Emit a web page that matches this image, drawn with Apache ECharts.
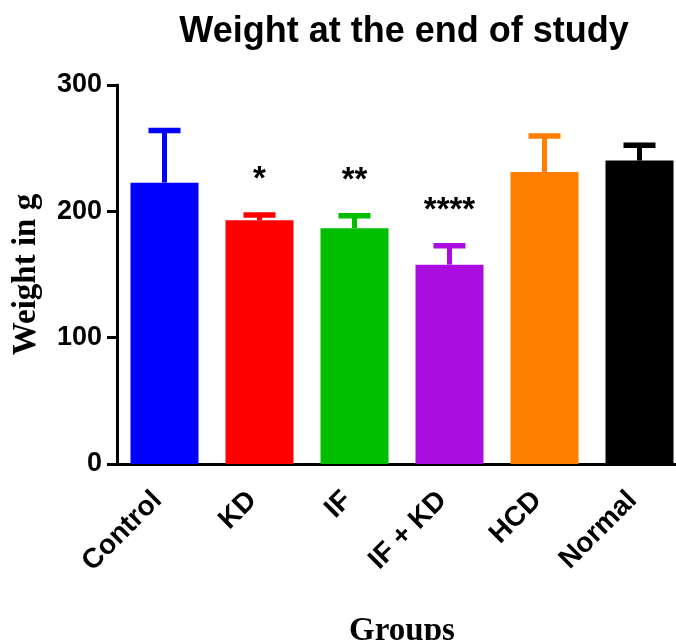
<!DOCTYPE html>
<html>
<head>
<meta charset="utf-8">
<script src="https://cdn.jsdelivr.net/npm/echarts@6/dist/echarts.min.js"></script>
<style>html,body{margin:0;padding:0;background:#fff}#c{width:676px;height:640px}</style>
</head>
<body>
<div id="c"></div>
<script>
const categories = ['Control', 'KD', 'IF', 'IF + KD', 'HCD', 'Normal'];
const means = [222.7, 193, 186.6, 157.8, 231.2, 240.2];
const errors = [41.3, 4, 10, 15, 28.5, 12.2];
const significance = ['', '*', '**', '****', '', ''];
const colors = ['#0000FF', '#FF0000', '#00BF00', '#AB0CE0', '#FF8000', '#000000'];
const yTicks = [0, 100, 200, 300];

const chart = echarts.init(document.getElementById('c'));
const sans = 'Liberation Sans, Arial, sans-serif';
const serif = 'Liberation Serif, Times New Roman, serif';

chart.setOption({
  animation: false,
  title: {
    text: 'Weight at the end of study',
    left: 399, top: 9, textAlign: 'center',
    textStyle: { fontFamily: sans, fontWeight: 'bold', fontSize: 36, color: '#000' }
  },
  grid: { left: 117, top: 85, width: 570, height: 379, containLabel: false, outerBoundsMode: 'none' },
  xAxis: {
    type: 'category', data: categories,
    name: 'Groups', nameLocation: 'middle', nameGap: 151,
    nameTextStyle: { fontFamily: serif, fontWeight: 'bold', fontSize: 33, color: '#000' },
    axisLine: { lineStyle: { color: '#000', width: 3 } },
    axisTick: { alignWithLabel: true, length: 10, lineStyle: { color: '#000', width: 3 } },
    axisLabel: { rotate: 45, margin: 25, padding: [0, 10, 0, 0], fontFamily: sans, fontWeight: 'bold', fontSize: 28, color: '#000', interval: 0 }
  },
  yAxis: {
    type: 'value', min: yTicks[0], max: yTicks[yTicks.length - 1], interval: 100,
    name: 'Weight in g', nameLocation: 'middle', nameGap: 74,
    nameTextStyle: { fontFamily: serif, fontWeight: 'bold', fontSize: 33, color: '#000' },
    splitLine: { show: false },
    axisLine: { show: true, lineStyle: { color: '#000', width: 3 } },
    axisTick: { show: true, length: 10, lineStyle: { color: '#000', width: 3 } },
    axisLabel: { margin: 15, fontFamily: sans, fontWeight: 'bold', fontSize: 27, color: '#000' }
  },
  series: [
    {
      type: 'bar', barWidth: 68,
      data: means.map((v, i) => ({ value: v, itemStyle: { color: colors[i] } }))
    },
    {
      type: 'custom',
      data: means.map((v, i) => [i, v, v + errors[i]]),
      renderItem: function (params, api) {
        const i = api.value(0);
        const base = api.coord([i, api.value(1)]);
        const top = api.coord([i, api.value(2)]);
        const c = colors[i];
        const children = [
          { type: 'rect', shape: { x: base[0] - 2.5, y: top[1], width: 5, height: base[1] - top[1] }, style: { fill: c } },
          { type: 'rect', shape: { x: base[0] - 16, y: top[1] - 2.75, width: 32, height: 5.5 }, style: { fill: c } }
        ];
        if (significance[i]) {
          children.push({
            type: 'text',
            style: {
              text: significance[i], x: base[0], y: top[1] - 35,
              align: 'center', verticalAlign: 'middle',
              font: 'bold 33px ' + sans, fill: '#000'
            }
          });
        }
        return { type: 'group', children: children };
      },
      z: 3
    }
  ]
});
</script>
</body>
</html>
